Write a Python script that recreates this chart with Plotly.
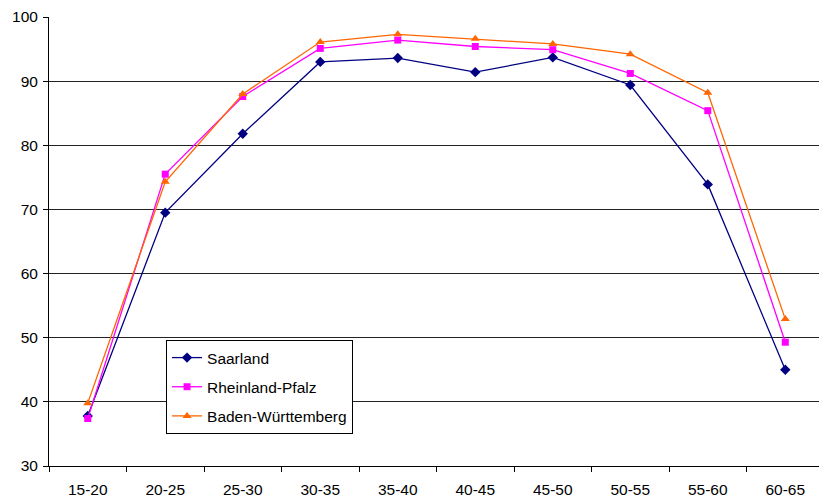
import plotly.graph_objects as go

categories = ["15-20", "20-25", "25-30", "30-35", "35-40", "40-45", "45-50", "50-55", "55-60", "60-65"]
saarland = [37.8, 69.5, 81.8, 93.0, 93.6, 91.4, 93.7, 89.4, 73.9, 45.0]
rheinland_pfalz = [37.4, 75.5, 87.6, 95.1, 96.4, 95.4, 94.9, 91.2, 85.4, 49.3]
baden_wuerttemberg = [39.8, 74.3, 88.0, 96.1, 97.3, 96.6, 95.8, 94.2, 88.2, 52.9]
y_ticks = [30, 40, 50, 60, 70, 80, 90, 100]

series = [
    ("Saarland", saarland, "#000080", "diamond", 8),
    ("Rheinland-Pfalz", rheinland_pfalz, "#FF00FF", "square", 7),
    ("Baden-Württemberg", baden_wuerttemberg, "#FF6600", "triangle-up", 8),
]

fig = go.Figure()
for name, vals, col, sym, sz in series:
    fig.add_trace(go.Scatter(
        x=categories, y=vals, name=name, mode="lines+markers",
        line=dict(color=col, width=1.3),
        marker=dict(color=col, symbol=sym, size=sz, line=dict(width=0)),
        legendgroup=name,
    ))

fig.update_layout(
    width=819, height=497,
    margin=dict(l=49, r=0, t=17, b=31),
    paper_bgcolor="white", plot_bgcolor="white",
    font=dict(family="Liberation Sans, Arial, sans-serif", size=15.5, color="black"),
    showlegend=True,
    legend=dict(
        x=0.152, y=0.2806, xanchor="left", yanchor="top",
        bgcolor="white", bordercolor="black", borderwidth=1,
        font=dict(size=15.5), tracegroupgap=6,
    ),
    xaxis=dict(
        type="category", range=[-0.5, 9.435],
        showgrid=False, showline=True, linecolor="black", linewidth=1,
        ticks="outside", ticklen=5, tickcolor="black", tickson="boundaries",
        ticklabelstandoff=9,
        fixedrange=True,
    ),
    yaxis=dict(
        range=[30, 100], tickvals=y_ticks,
        showgrid=True, gridcolor="#222222", gridwidth=1,
        showline=True, linecolor="black", linewidth=1,
        ticks="outside", ticklen=5, tickcolor="black",
        ticklabelstandoff=2,
        zeroline=False, fixedrange=True,
    ),
)

fig.write_html("out.html")
